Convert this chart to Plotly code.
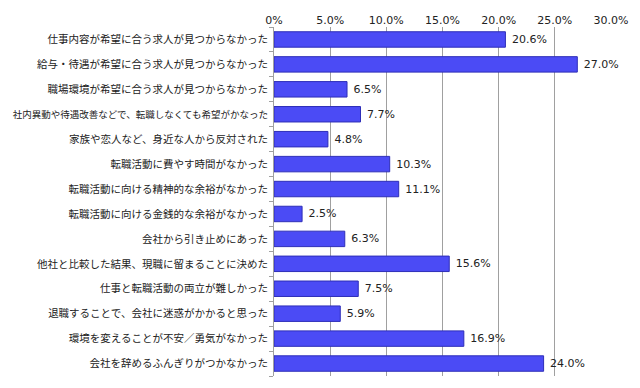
import plotly.graph_objects as go

categories = [
    "仕事内容が希望に合う求人が見つからなかった",
    "給与・待遇が希望に合う求人が見つからなかった",
    "職場環境が希望に合う求人が見つからなかった",
    "社内異動や待遇改善などで、転職しなくても希望がかなった",
    "家族や恋人など、身近な人から反対された",
    "転職活動に費やす時間がなかった",
    "転職活動に向ける精神的な余裕がなかった",
    "転職活動に向ける金銭的な余裕がなかった",
    "会社から引き止めにあった",
    "他社と比較した結果、現職に留まることに決めた",
    "仕事と転職活動の両立が難しかった",
    "退職することで、会社に迷惑がかかると思った",
    "環境を変えることが不安／勇気がなかった",
    "会社を辞めるふんぎりがつかなかった",
]
values = [20.6, 27.0, 6.5, 7.7, 4.8, 10.3, 11.1, 2.5, 6.3, 15.6, 7.5, 5.9, 16.9, 24.0]
tick_vals = [0, 5, 10, 15, 20, 25, 30]
tick_text = ["0%", "5.0%", "10.0%", "15.0%", "20.0%", "25.0%", "30.0%"]

font_family = "Noto Sans CJK JP, Noto Sans, sans-serif"
num_font = "Verdana, DejaVu Sans, sans-serif"

# shrink only very long labels so they fit in the left margin
y_ticktext = [
    (f'<span style="font-size:9.5px">{c}</span>' if len(c) > 24 else c)
    for c in categories
]

fig = go.Figure(go.Bar(
    x=values,
    y=categories,
    orientation="h",
    marker=dict(color="#4B4BF5", line=dict(color="#2E2EB8", width=1)),
    width=0.62,
    text=[f"\u00a0{v:.1f}%" for v in values],
    textposition="outside",
    textfont=dict(size=11, color="#222222", family=num_font),
    cliponaxis=False,
))

fig.update_layout(
    width=640, height=388,
    margin=dict(l=266, r=37, t=19, b=20),
    plot_bgcolor="white", paper_bgcolor="white",
    showlegend=False,
    font=dict(family=font_family, size=11, color="#222222"),
)
fig.update_xaxes(
    side="top", range=[0, 30], tickvals=tick_vals, ticktext=tick_text,
    showgrid=True, gridcolor="#A0A0A0", gridwidth=1,
    zeroline=False, showline=False, ticks="",
    automargin=False,
    tickfont=dict(family=num_font, size=11, color="#222222"),
)
fig.update_yaxes(
    categoryorder="array", categoryarray=categories, autorange="reversed",
    tickmode="array", tickvals=categories, ticktext=y_ticktext,
    showline=True, linecolor="#A0A0A0", linewidth=1,
    ticks="outside", ticklen=4, tickcolor="#A0A0A0", tickson="boundaries",
    ticklabelstandoff=3,
    showgrid=False, automargin=False,
    tickfont=dict(size=10.5, color="#222222"),
)

fig.write_html("out.html")
